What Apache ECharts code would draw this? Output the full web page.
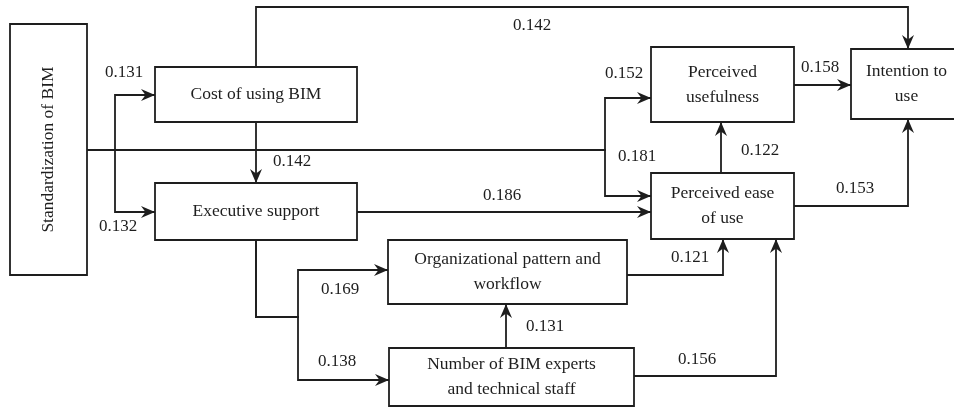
<!DOCTYPE html>
<html>
<head>
<meta charset="utf-8">
<script src="https://cdn.jsdelivr.net/npm/echarts@6/dist/echarts.min.js"></script>
<style>
html,body{margin:0;padding:0;background:#fff;}
#chart{width:954px;height:408px;}
</style>
</head>
<body>
<div id="chart"></div>
<script>
// ---- Data ----
const nodeNames = [
  'Standardization of BIM',
  'Cost of using BIM',
  'Executive support',
  'Perceived\nusefulness',
  'Intention to\nuse',
  'Perceived ease\nof use',
  'Organizational pattern and\nworkflow',
  'Number of BIM experts\nand technical staff'
];
const edgeFrom = [0, 0, 1, 1, 0, 0, 2, 3, 5, 5, 2, 2, 7, 6, 7];
const edgeTo   = [1, 2, 4, 2, 3, 5, 5, 4, 3, 4, 6, 7, 6, 5, 5];
const coefficients = ['0.131','0.132','0.142','0.142','0.152','0.181','0.186','0.158','0.122','0.153','0.169','0.138','0.131','0.121','0.156'];

// ---- Layout (diagram space, pixels) ----
const nodeBoxes = [
  [10, 24, 87, 275],
  [155, 67, 357, 122],
  [155, 183, 357, 240],
  [651, 47, 794, 122],
  [851, 49, 962, 119],
  [651, 173, 794, 239],
  [388, 240, 627, 304],
  [389, 348, 634, 406]
];
const nodeRotate = [true, false, false, false, false, false, false, false];
const edgeRoutes = [
  [[87,150],[115,150],[115,95],[155,95]],
  [[87,150],[115,150],[115,212],[155,212]],
  [[256,67],[256,7],[908,7],[908,49]],
  [[256,122],[256,183]],
  [[87,150],[605,150],[605,98],[651,98]],
  [[87,150],[605,150],[605,196],[651,196]],
  [[357,212],[651,212]],
  [[794,85],[851,85]],
  [[721,173],[721,122]],
  [[794,206],[908,206],[908,119]],
  [[256,240],[256,317],[298,317],[298,270],[388,270]],
  [[256,240],[256,317],[298,317],[298,380],[389,380]],
  [[506,348],[506,304]],
  [[627,275],[723,275],[723,239]],
  [[634,376],[776,376],[776,239]]
];
const labelPos = [
  [124,73],[118,227],[532,26],[292,162],[624,74],[637,157],[502,196],
  [820,68],[760,151],[855,189],[340,290],[337,362],[545,327],[690,258],[697,360]
];

const INK = '#1e1e1e';
const FONT = 'Liberation Serif';

const chart = echarts.init(document.getElementById('chart'), null, {renderer: 'canvas'});

function arrowHead(p, q) {
  const dx = q[0] - p[0], dy = q[1] - p[1];
  const len = Math.sqrt(dx*dx + dy*dy) || 1;
  const ux = dx/len, uy = dy/len;
  const nx = -uy, ny = ux;
  const L = 14, W = 6, N = 4.5;
  const bx = q[0] - ux*L, by = q[1] - uy*L;
  return [
    [q[0], q[1]],
    [bx + nx*W, by + ny*W],
    [q[0] - ux*(L-N), q[1] - uy*(L-N)],
    [bx - nx*W, by - ny*W]
  ];
}

const option = {
  animation: false,
  backgroundColor: '#fff',
  grid: {left: 0, right: 0, top: 0, bottom: 0},
  xAxis: {type: 'value', min: 0, max: 954, show: false},
  yAxis: {type: 'value', min: 0, max: 408, inverse: true, show: false},
  series: [
    {
      type: 'custom',
      name: 'edges',
      clip: false,
      silent: true,
      data: edgeFrom.map((f, i) => [i, f, edgeTo[i]]),
      renderItem: function (params, api) {
        const i = api.value(0);
        const pts = edgeRoutes[i].map(p => api.coord(p));
        const last = pts[pts.length - 1], prev = pts[pts.length - 2];
        return {
          type: 'group',
          children: [
            {type: 'polyline', shape: {points: pts}, style: {stroke: INK, lineWidth: 1.8, fill: null}},
            {type: 'polygon', shape: {points: arrowHead(prev, last)}, style: {fill: INK, stroke: null}}
          ]
        };
      }
    },
    {
      type: 'custom',
      name: 'nodes',
      clip: false,
      silent: true,
      data: nodeNames.map((n, i) => [i]),
      renderItem: function (params, api) {
        const i = api.value(0);
        const b = nodeBoxes[i];
        const p1 = api.coord([b[0], b[1]]);
        const p2 = api.coord([b[2], b[3]]);
        const cx = (p1[0] + p2[0]) / 2, cy = (p1[1] + p2[1]) / 2;
        return {
          type: 'group',
          children: [
            {type: 'rect', shape: {x: p1[0], y: p1[1], width: p2[0]-p1[0], height: p2[1]-p1[1]},
             style: {fill: '#fff', stroke: INK, lineWidth: 1.8}},
            {type: 'text', x: cx, y: cy, rotation: nodeRotate[i] ? Math.PI/2 : 0,
             style: {text: nodeNames[i], x: 0, y: 0, align: 'center', verticalAlign: 'middle',
                     fontFamily: FONT, fontSize: 17.5, lineHeight: 25, fill: INK}}
          ]
        };
      }
    },
    {
      type: 'custom',
      name: 'coefficients',
      clip: false,
      silent: true,
      data: coefficients.map((c, i) => [i]),
      renderItem: function (params, api) {
        const i = api.value(0);
        const p = api.coord(labelPos[i]);
        return {
          type: 'text', x: p[0], y: p[1],
          style: {text: coefficients[i], x: 0, y: 0, align: 'center', verticalAlign: 'middle',
                  fontFamily: FONT, fontSize: 17, fill: INK}
        };
      }
    }
  ]
};
chart.setOption(option);
</script>
</body>
</html>
